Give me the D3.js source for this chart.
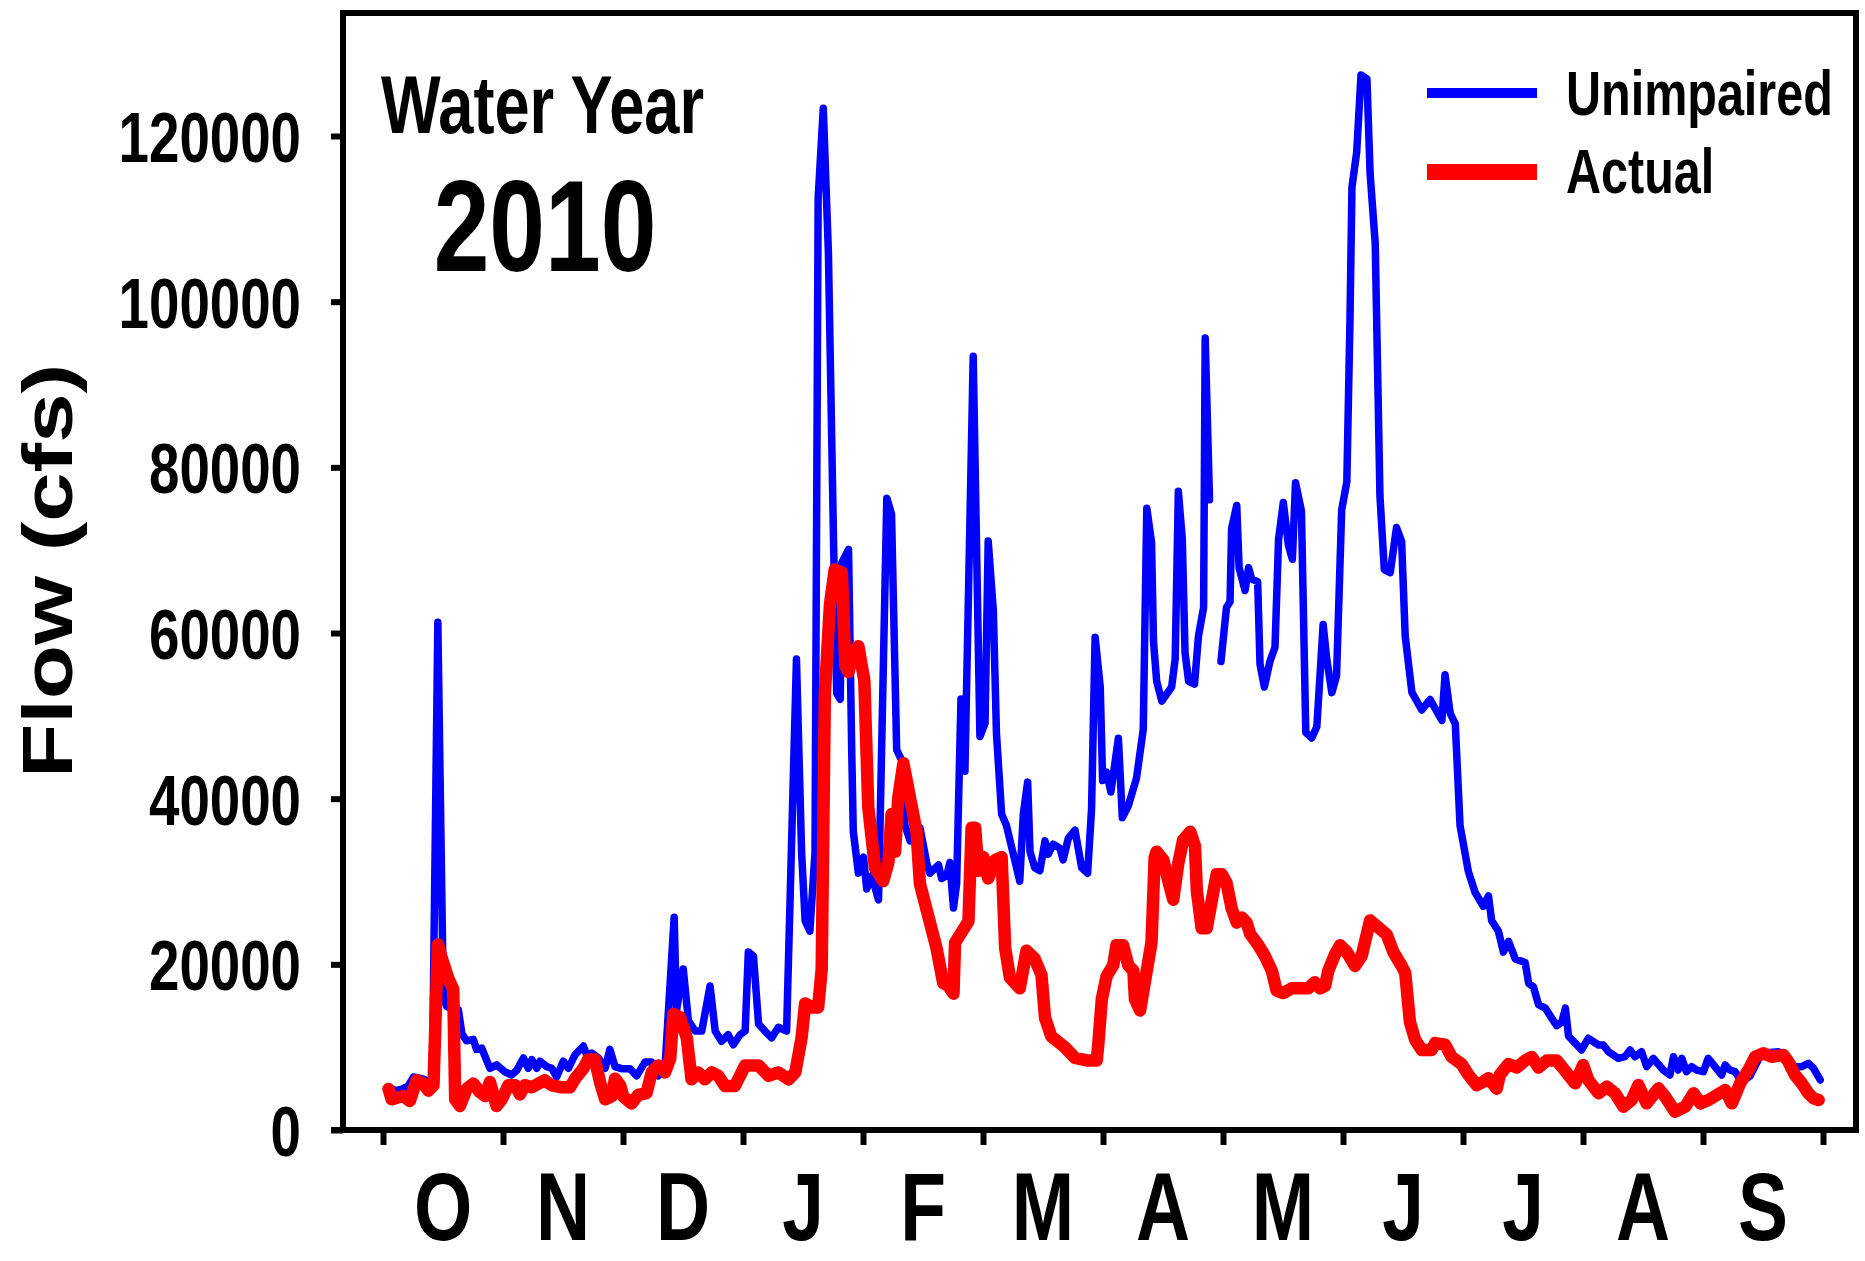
<!DOCTYPE html>
<html><head><meta charset="utf-8">
<script src="https://cdn.jsdelivr.net/npm/d3@7"></script>
<style>html,body{margin:0;padding:0;background:#fff;} svg{display:block}</style>
</head><body>
<svg id="chart" width="1865" height="1261"></svg>
<script>
// ---------- DATA (day of water year, flow cfs) ----------
const months = ["O","N","D","J","F","M","A","M","J","J","A","S"];
const yTicks = [0,20000,40000,60000,80000,100000,120000];
const seriesNames = ["Unimpaired","Actual"];
const seriesColors = ["#0000ff","#ff0000"];
const titleLine1 = "Water Year";
const titleLine2 = "2010";
const yTitle = "Flow (cfs)";

const unimpaired = [
[1.4,5150],[3,4750],[4.7,4900],[6.4,5300],[7.7,6400],[9.8,6200],[11,6000],[12.5,5800],[13.9,61300],[14.9,28650],[15.3,16200],[16.1,14950],[17.8,14500],[19.1,14500],[20,11600],[21.2,10770],[22.9,10950],[23.7,9730],[25,9900],[27.1,7450],[28.8,7860],[30.9,7030],[32.6,6640],[33.9,7200],[35.6,8690],[36.8,7450],[37.7,8500],[39,7450],[39.8,8300],[41.5,7650],[42.8,7450],[44,6400],[45.7,8300],[47,7450],[48.7,9100],[50.8,10140],[51.6,9100],[52.9,9300],[54.6,8700],[56.3,7450],[57.5,9730],[58.8,7650],
[60.5,7400],[62.6,7400],[64.3,6540],[66.4,8200],[68.1,8200],[69.8,6540],[71.5,7800],[73.8,25670],[74.4,14440],[76.1,19440],[77.4,13200],[79.1,11950],[80.8,11950],[82.9,17380],[84.2,11950],[85.8,10700],[87.5,11500],[88.8,10290],[90.5,11500],[91.8,11950],[92.6,21500],[93.9,21000],[95.2,12800],[96.8,11950],[98.5,11120],[100.2,12400],[102.3,11950],[104.8,56850],[106.1,33560],[107,25230],[108.2,24000],[109.5,33500],[110.3,112500],[111.6,123360],[112.9,105900],[114.2,71000],[115,52700],[115.9,52000],[116.3,68500],[118,70100],[118.8,46000],[119.2,36060],
[120.5,31000],[121.8,32950],[122.6,29100],[123.9,30700],[125.6,27770],[127.7,76280],[128.9,74370],[130.2,45880],[131.5,44600],[132.3,36800],[133.6,34900],[136.1,36500],[137.8,32300],[138.6,31000],[140.8,32000],[141.6,30360],[142.9,30700],[143.7,32300],[144.6,26800],[145.4,29720],[146.5,52030],[147.5,43300],[149.6,93420],[151.3,47500],[152.6,49100],[153.4,71100],[154.7,62700],[155.5,47830],[156.8,38140],[158,36800],[161.4,30050],[162.3,38140],[163.4,42000],[164,33600],[165.2,31660],[166.5,31300],[167.8,34900],[168.6,33300],[169.9,34500],[171.6,34000],[172.4,32600],[173.7,35200],[175.4,36200],[177.1,31660],[178.6,31000],[179.6,38770],[180.5,59500],[181.8,53500],[182.4,42180],
[183.4,43200],[184.5,40800],[186.4,47300],[187.4,37700],[188.9,39100],[191,42500],[192.7,48340],[193.6,75070],[194.8,70950],[195.3,58960],[196.1,54170],[197.4,51770],[199.9,53480],[200.8,56900],[201.6,77120],[202.6,71300],[203.3,57600],[204.2,54170],[205.7,53840],[206.7,59640],[208,63080],[208.4,95620],[209.5,76100],[210.5,null],[212.4,56560],[213.8,63080],[214.7,63760],[215.1,72650],[216.4,75400],[217,67880],[218.5,65130],[219.4,67880],[220.2,66500],[221.7,66200],[222.3,56220],[223.4,53480],[224.8,56560],[226.1,58280],[227,71300],[228.2,75750],[229.5,70600],[230.5,68900],[231.3,78150],[232.8,74730],[233.9,48000],[235.4,47330],[236.7,48690],[238.3,61020],[239.2,56900],[240.5,52800],[241.7,54850],
[243,74850],[244.3,78240],[245.1,97720],[245.6,113800],[246.8,118050],[247.9,127370],[249.4,126900],[250.2,115500],[251.5,107040],[252.7,76540],[253.8,67660],[255.3,67290],[256.9,72740],[258.2,71040],[259.1,59600],[260.8,52830],[263.3,50700],[265.4,51990],[268.4,49440],[269.2,54950],[270.5,50300],[271.8,49020],[273,36740],[275.1,31230],[276.8,28700],[278.9,27000],[280.2,28270],[281,25300],[282.7,24030],[284,21490],[285.3,22770],[287,20650],[289.5,20220],[290.4,17690],[291.6,17280],[292.9,15140],[294.6,14720],[296.3,13450],[297.5,12600],[298.8,13030],[299.7,14720],[300.5,11340],[302.2,10490],
[303.8,9660],[305.5,11070],[308.1,10260],[309.3,10260],[310.6,9460],[313.1,8650],[314.8,8850],[316.1,9660],[317.3,8850],[319,9460],[320.3,7650],[322,8650],[324.5,7240],[326.2,6640],[327.1,8850],[328.3,7240],[329.2,8650],[330.4,7040],[331.7,7650],[333,7240],[334.7,7040],[335.9,8650],[337.6,7650],[339.3,6640],[340.2,7850],[341.4,7240],[342.7,7040],[344.4,5840],[346.5,6500],[349.4,9260],[353.7,9460],[356.2,8450],[357.9,7650],[359.6,7650],[361.3,8050],[362.6,7450],[364.3,6040]
];

const actual = [
[1.4,4950],[2.2,3700],[3.5,3900],[5.2,4100],[6.8,3500],[8.5,6000],[10.2,5600],[11.5,4750],[12.8,5400],[13.9,22400],[14.9,20750],[16.6,18250],[17.8,17000],[18.3,3700],[19.5,2900],[21.2,4950],[22.9,5600],[24.6,4550],[25.9,4100],[27.1,5800],[28.8,2900],[30.1,3700],[31.8,5400],[33.5,5400],[34.7,4300],[36,5400],[37.7,5150],[39.4,5600],[41,6000],[42.8,5400],[45.3,5150],[47.4,5150],[48.7,6200],[50.8,7450],[52,8500],[53.7,8500],[55,5800],[56.3,3700],[58,4100],[58.8,6200],[60.1,5400],
[60.9,4040],[63,3200],[64.7,4240],[66.8,4460],[68.1,6950],[69.8,7800],[71.5,6950],[72.8,8620],[73.6,14020],[75.3,13600],[77,11120],[78.2,6120],[79.9,6950],[81.6,6120],[83.3,6950],[85,6540],[86.7,5300],[89.2,5300],[91.8,7800],[95.2,7800],[97.7,6540],[100.2,6950],[102.8,6120],[104.5,6950],[106.1,11120],[107,15270],[108.7,14800],[110.3,14800],[111.2,19440],[112,52700],[113.3,63500],[114.5,67660],[116.3,67300],[117.2,56000],[118,55300],[119.2,57700],[120.5,58400],[122,54300],[123,39000],
[124.7,31660],[126.8,30050],[128.1,32300],[128.9,38140],[129.8,33600],[130.6,40060],[131.9,44270],[133.6,40060],[135.2,36200],[136.1,29720],[138.2,25840],[140.3,21970],[142,17750],[143.3,17400],[144.6,16460],[145,22610],[146.7,23900],[148.4,25200],[149.2,36500],[150.1,36500],[150.9,31300],[152.2,32950],[153.4,30360],[155.2,32600],[156.8,32950],[157.7,21970],[158.9,18400],[161.4,17100],[163.1,21650],[165.2,20670],[166.9,18730],[167.8,13560],[169.4,11290],[172.8,10000],[175.4,8700],[178.7,8380],[180.9,8380],
[181.3,10300],[182.2,15800],[183.4,18540],[185.1,19900],[185.9,22300],[187.6,22300],[188.9,19900],[190.2,19220],[190.6,15800],[191.9,14430],[193.1,17850],[194.8,22650],[195.6,32920],[196.1,33600],[197.8,32600],[199,30180],[200.3,27800],[201.6,32240],[202.8,34990],[204.6,36010],[205.8,34290],[206.3,28820],[207.5,24360],[208.8,24360],[210.5,28820],[211.3,30870],[212.6,30870],[213.8,29840],[215.1,26770],[216.4,25050],[217.7,25640],[218.9,25050],[219.8,23670],[221.9,22300],[223.6,20940],[225.3,19220],[226.5,16830],[228.2,16540],[230.3,17100],[232,17100],[234.5,17100],[236.2,17850],[237.5,17100],[238.8,17400],[239.6,19220],[241.3,21200],
[242.6,22300],[244.3,21490],[246.4,19800],[248.1,21060],[250.2,25300],[252.3,24450],[254.4,23600],[256.1,21490],[258.2,19800],[259.1,18960],[260.3,13040],[261.6,10910],[263.3,9660],[265.8,9660],[266.7,10490],[269.2,10300],[270.9,8810],[273.4,7960],[275.1,6680],[277.2,5410],[278.9,5830],[280.2,6250],[282.3,4990],[283.1,6680],[285.3,7960],[287.4,7540],[289.5,8380],[291.2,8810],[292.9,7540],[295,8380],[297.5,8380],[299.7,7110],[301.8,5830],
[302.2,5640],[304.2,7850],[305.5,6040],[308.1,4430],[310.2,5230],[312.3,4430],[314.4,2820],[316.5,3620],[318.2,5430],[320.3,3220],[323.3,5030],[325,4020],[327.5,2210],[330.1,2820],[332.2,4430],[333.9,3220],[336,3620],[338.1,4230],[340.2,4830],[341.9,3220],[344,5640],[346.1,7240],[347.8,8850],[349.9,9260],[352,8850],[355,9050],[356.2,8250],[357.9,6640],[359.6,5640],[361.3,4430],[362.6,3820],[363.9,3620]
];

// ---------- CHART ----------
const FONT = "'Liberation Sans', Arial, Helvetica, sans-serif";
const svg = d3.select("#chart");
const x = d3.scaleLinear().domain([0,365]).range([383,1823]);
const y = d3.scaleLinear().domain([0,120000]).range([1130,136]);

const line = d3.line()
  .defined(d => d[1] != null)
  .x(d => x(d[0])).y(d => y(d[1]));

const seriesData = [unimpaired, actual];
const widths = [7.5, 12.5];
seriesData.forEach((s,i) => {
  svg.append("path").datum(s).attr("d", line)
    .attr("fill","none").attr("stroke",seriesColors[i]).attr("stroke-width",widths[i])
    .attr("stroke-linejoin","round").attr("stroke-linecap","round");
});

// frame
const frame = svg.append("g").attr("stroke","#000").attr("stroke-width",6);
frame.append("line").attr("x1",343).attr("x2",343).attr("y1",10).attr("y2",1133);
frame.append("line").attr("x1",331).attr("x2",1859).attr("y1",1130).attr("y2",1130);
frame.append("line").attr("x1",340).attr("x2",1859).attr("y1",13).attr("y2",13);
frame.append("line").attr("x1",1856).attr("x2",1856).attr("y1",10).attr("y2",1133);

// y axis
const ySX = 0.77;
const yAxis = svg.append("g").attr("transform","translate(343,0)")
  .call(d3.axisLeft(y).tickValues(yTicks).tickSize(12).tickSizeOuter(0).tickFormat(d3.format("d")));
yAxis.select(".domain").remove();
yAxis.selectAll(".tick line").attr("stroke","#000").attr("stroke-width",6);
yAxis.selectAll(".tick text")
  .attr("font-family",FONT).attr("font-weight","bold").attr("font-size",71).attr("fill","#000")
  .attr("text-anchor","end").attr("x",-42/ySX).attr("dy","0.36em").attr("transform",`scale(${ySX},1)`);

// x axis
const monthEdges = d3.range(13).map(i => i*365/12);
const xAxis = svg.append("g").attr("transform","translate(0,1130)")
  .call(d3.axisBottom(x).tickValues(monthEdges).tickSize(15).tickSizeOuter(0).tickFormat(""));
xAxis.select(".domain").remove();
xAxis.selectAll(".tick line").attr("stroke","#000").attr("stroke-width",6);

svg.append("g").selectAll("text").data(months).join("text")
  .attr("transform",(d,i) => `translate(${x((i+0.5)*365/12)},1240) scale(0.78,1)`)
  .attr("text-anchor","middle").attr("font-family",FONT).attr("font-weight","bold")
  .attr("font-size",96).attr("fill","#000").text(d => d);

// y title
svg.append("text").attr("transform","translate(72,571) rotate(-90) scale(1.25,1)")
  .attr("text-anchor","middle").attr("font-family",FONT).attr("font-weight","bold")
  .attr("font-size",71).attr("fill","#000").text(yTitle);

// title
svg.append("text").attr("transform","translate(381,133) scale(0.78,1)")
  .attr("font-family",FONT).attr("font-weight","bold").attr("font-size",81).attr("fill","#000").text(titleLine1);
svg.append("text").attr("transform","translate(545,271) scale(0.77,1)").attr("text-anchor","middle")
  .attr("font-family",FONT).attr("font-weight","bold").attr("font-size",130).attr("fill","#000").text(titleLine2);

// legend
const legRectY = [88,164], legRectH = [10,16], legTextY = [115,193];
seriesNames.forEach((n,i) => {
  svg.append("rect").attr("x",1427).attr("y",legRectY[i]).attr("width",110).attr("height",legRectH[i]).attr("fill",seriesColors[i]);
  svg.append("text").attr("transform",`translate(1566,${legTextY[i]}) scale(0.77,1)`)
    .attr("font-family",FONT).attr("font-weight","bold").attr("font-size",63).attr("fill","#000").text(n);
});
</script>
</body></html>
